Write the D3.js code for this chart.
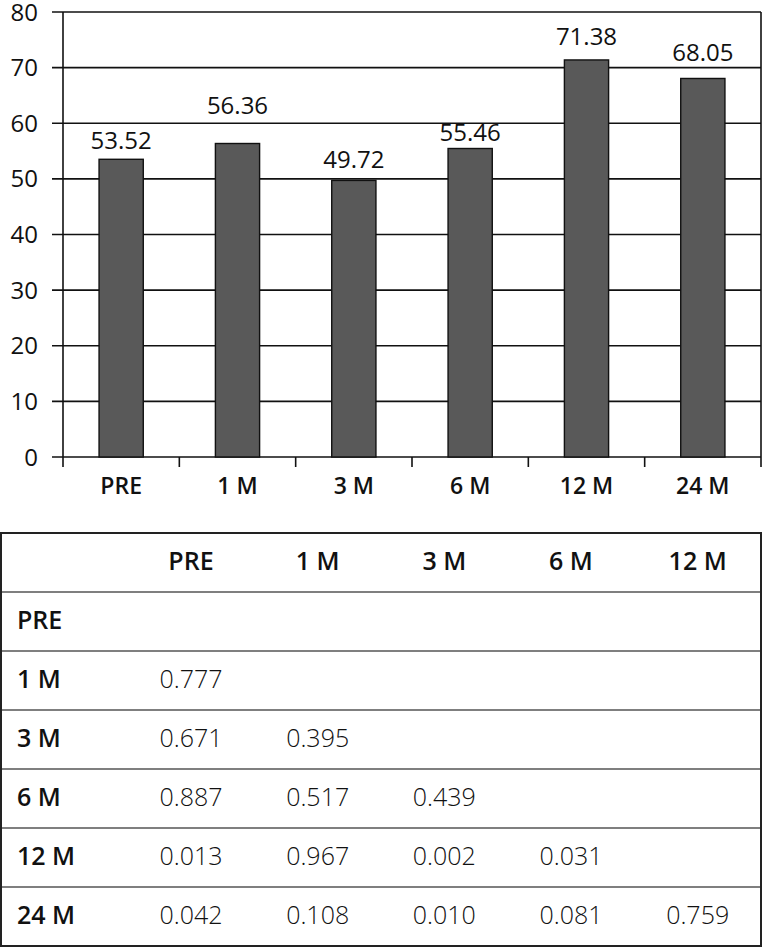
<!DOCTYPE html>
<html>
<head>
<meta charset="utf-8">
<script src="https://cdn.jsdelivr.net/npm/d3@7"></script>
<style>
  html, body { margin: 0; padding: 0; background: #fff; }
  svg { display: block; font-family: "Open Sans", "Noto Sans", sans-serif; }
</style>
</head>
<body>
<svg id="chart" width="765" height="949"></svg>
<script>
const categories = ["PRE", "1 M", "3 M", "6 M", "12 M", "24 M"];
const values = [53.52, 56.36, 49.72, 55.46, 71.38, 68.05];
const yTicks = [0, 10, 20, 30, 40, 50, 60, 70, 80];

const tableCols = ["PRE", "1 M", "3 M", "6 M", "12 M"];
const tableRows = ["PRE", "1 M", "3 M", "6 M", "12 M", "24 M"];
const pValues = [
  [],
  ["0.777"],
  ["0.671", "0.395"],
  ["0.887", "0.517", "0.439"],
  ["0.013", "0.967", "0.002", "0.031"],
  ["0.042", "0.108", "0.010", "0.081", "0.759"]
];

// layout: gap (px) between bar top and its value label baseline, as placed in the original
const labelGap = [10, 29, 12, 8, 15, 17];

const svg = d3.select("#chart");

// ---------- Bar chart ----------
const plot = { left: 63, right: 761, top: 12, bottom: 457 };
const x = d3.scaleBand().domain(categories).range([plot.left, plot.right])
  .paddingInner(0.62).paddingOuter(0.31);
const y = d3.scaleLinear().domain([0, 80]).range([plot.bottom, plot.top]);

// gridlines
svg.append("g").selectAll("line").data(yTicks).join("line")
  .attr("x1", plot.left - 11).attr("x2", plot.right)
  .attr("y1", d => y(d)).attr("y2", d => y(d))
  .attr("stroke", "#111").attr("stroke-width", 1.6);

// right border
svg.append("line").attr("x1", plot.right).attr("x2", plot.right)
  .attr("y1", plot.top).attr("y2", plot.bottom)
  .attr("stroke", "#111").attr("stroke-width", 1.6);

// bars
svg.append("g").selectAll("rect").data(values).join("rect")
  .attr("x", (d, i) => x(categories[i]))
  .attr("y", d => y(d))
  .attr("width", x.bandwidth())
  .attr("height", d => y(0) - y(d))
  .attr("fill", "#595959")
  .attr("stroke", "#111").attr("stroke-width", 1.4);

// y axis line
svg.append("line").attr("x1", plot.left).attr("x2", plot.left)
  .attr("y1", plot.top).attr("y2", plot.bottom + 10)
  .attr("stroke", "#111").attr("stroke-width", 1.6);

// category boundary ticks
const step = x.step();
svg.append("g").selectAll("line").data(categories).join("line")
  .attr("x1", (d, i) => plot.left + step * (i + 1))
  .attr("x2", (d, i) => plot.left + step * (i + 1))
  .attr("y1", plot.bottom).attr("y2", plot.bottom + 10)
  .attr("stroke", "#111").attr("stroke-width", 1.6);

// y tick labels
svg.append("g").selectAll("text").data(yTicks).join("text")
  .attr("x", 38).attr("y", d => y(d) + 8.5)
  .attr("text-anchor", "end")
  .attr("font-size", 24).attr("fill", "#111")
  .text(d => d);

// value labels
svg.append("g").selectAll("text").data(values).join("text")
  .attr("x", (d, i) => x(categories[i]) + x.bandwidth() / 2)
  .attr("y", (d, i) => y(d) - labelGap[i])
  .attr("text-anchor", "middle")
  .attr("font-size", 24).attr("fill", "#111")
  .text(d => d.toFixed(2));

// category labels
svg.append("g").selectAll("text").data(categories).join("text")
  .attr("x", d => x(d) + x.bandwidth() / 2)
  .attr("y", 494)
  .attr("text-anchor", "middle")
  .attr("font-size", 23).attr("font-weight", 600).attr("fill", "#111")
  .text(d => d);

// ---------- Table ----------
const tbl = { left: 1, right: 761, top: 533, rowH: 59 };
const nRows = tableRows.length + 1;
const tx = d3.scaleBand().domain(["_label", ...tableCols]).range([tbl.left, tbl.right]);
const ty = d3.scaleBand().domain(d3.range(nRows)).range([tbl.top, tbl.top + tbl.rowH * nRows]);

// inner row lines
svg.append("g").selectAll("line").data(d3.range(1, nRows)).join("line")
  .attr("x1", tbl.left).attr("x2", tbl.right)
  .attr("y1", d => ty(d)).attr("y2", d => ty(d))
  .attr("stroke", "#555").attr("stroke-width", 1.5);

// outer frame
svg.append("rect")
  .attr("x", tbl.left).attr("y", tbl.top)
  .attr("width", tbl.right - tbl.left).attr("height", tbl.rowH * nRows)
  .attr("fill", "none").attr("stroke", "#222").attr("stroke-width", 2);

// header
svg.append("g").selectAll("text").data(tableCols).join("text")
  .attr("x", d => tx(d) + tx.bandwidth() / 2)
  .attr("y", ty(0) + ty.bandwidth() / 2 + 7)
  .attr("text-anchor", "middle")
  .attr("font-size", 25).attr("font-weight", 600).attr("fill", "#111")
  .text(d => d);

// row labels
svg.append("g").selectAll("text").data(tableRows).join("text")
  .attr("x", 17)
  .attr("y", (d, i) => ty(i + 1) + ty.bandwidth() / 2 + 7)
  .attr("font-size", 25).attr("font-weight", 600).attr("fill", "#111")
  .text(d => d);

// cells
const cells = [];
pValues.forEach((row, ri) => row.forEach((v, ci) => cells.push({ ri, ci, v })));
svg.append("g").selectAll("text").data(cells).join("text")
  .attr("x", d => tx(tableCols[d.ci]) + tx.bandwidth() / 2)
  .attr("y", d => ty(d.ri + 1) + ty.bandwidth() / 2 + 7)
  .attr("text-anchor", "middle")
  .attr("font-size", 25).attr("font-weight", 300).attr("fill", "#111")
  .text(d => d.v);
</script>
</body>
</html>
